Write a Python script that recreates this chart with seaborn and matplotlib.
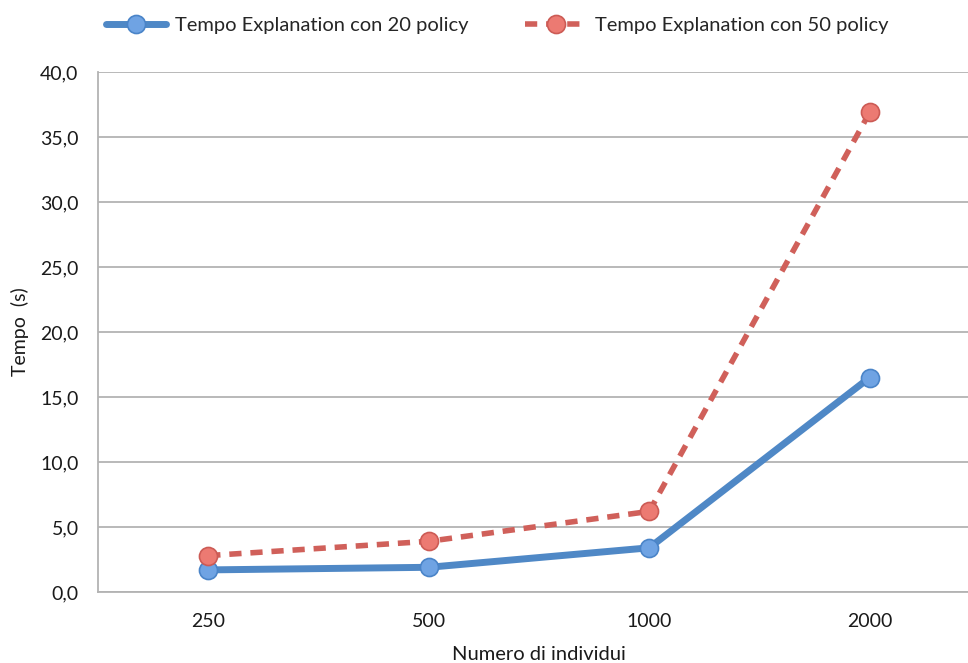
import matplotlib
matplotlib.use("Agg")
import matplotlib.pyplot as plt
import seaborn as sns
import pandas as pd
from matplotlib.ticker import FuncFormatter

categories = ["250", "500", "1000", "2000"]
series20 = [1.7, 1.9, 3.4, 16.5]
series50 = [2.8, 3.9, 6.2, 36.9]
label20 = "Tempo Explanation con 20 policy"
label50 = "Tempo Explanation con 50 policy"

df = pd.DataFrame({
    "Numero di individui": categories * 2,
    "Tempo": series20 + series50,
    "Serie": [label20] * 4 + [label50] * 4,
})

sns.set_theme(style="white")
plt.rcParams["font.family"] = ["Lato", "DejaVu Sans"]

fig = plt.figure(figsize=(9.68, 6.63), dpi=100)
ax = fig.add_axes([98 / 968, 1 - 592 / 663, (980 - 98) / 968, (592 - 72) / 663])

blue = "#4f88c6"
red = "#d0605a"
sns.lineplot(data=df[df.Serie == label20], x="Numero di individui", y="Tempo",
             ax=ax, color=blue, lw=5, marker="o", markersize=13,
             markerfacecolor="#6fa3e3", markeredgecolor="#4a84c8", markeredgewidth=1.2,
             label=label20, sort=False)
sns.lineplot(data=df[df.Serie == label50], x="Numero di individui", y="Tempo",
             ax=ax, color=red, lw=4, marker="o", markersize=13, linestyle=(0, (2.2, 1.6)),
             markerfacecolor="#ec7a72", markeredgecolor="#cc5b55", markeredgewidth=1.2,
             label=label50, sort=False)

ax.set_ylim(0, 40)
ax.set_xlim(-0.5, 3.5)
ax.set_yticks(range(0, 41, 5))
ax.yaxis.set_major_formatter(FuncFormatter(lambda v, p: f"{v:.1f}".replace(".", ",")))
ax.yaxis.grid(True, color="#b3b3b3", lw=1.3)
ax.set_axisbelow(True)
for s in ["top", "right"]:
    ax.spines[s].set_visible(False)
for s in ["left", "bottom"]:
    ax.spines[s].set_color("#b3b3b3")
    ax.spines[s].set_linewidth(1.3)
ax.tick_params(axis="both", length=0, labelsize=14, colors="#1a1a1a")
ax.tick_params(axis="y", pad=14)
ax.tick_params(axis="x", pad=15)
ax.set_xlabel("Numero di individui", fontsize=14.5, color="#1a1a1a", va="center")
ax.xaxis.set_label_coords(0.5, (592 - 655) / 520)
ax.set_ylabel("Tempo  (s)", fontsize=14, color="#1a1a1a", va="center")
ax.yaxis.set_label_coords((20 - 98) / 882, 0.5)

ax.legend(loc="upper left", bbox_to_anchor=((106 - 98) / 882, 1.105), ncol=2, frameon=False,
          fontsize=14.5, handlelength=3.0, handletextpad=0.45, columnspacing=2.8,
          borderpad=0, borderaxespad=0)

fig.savefig("out.png", dpi=100)
